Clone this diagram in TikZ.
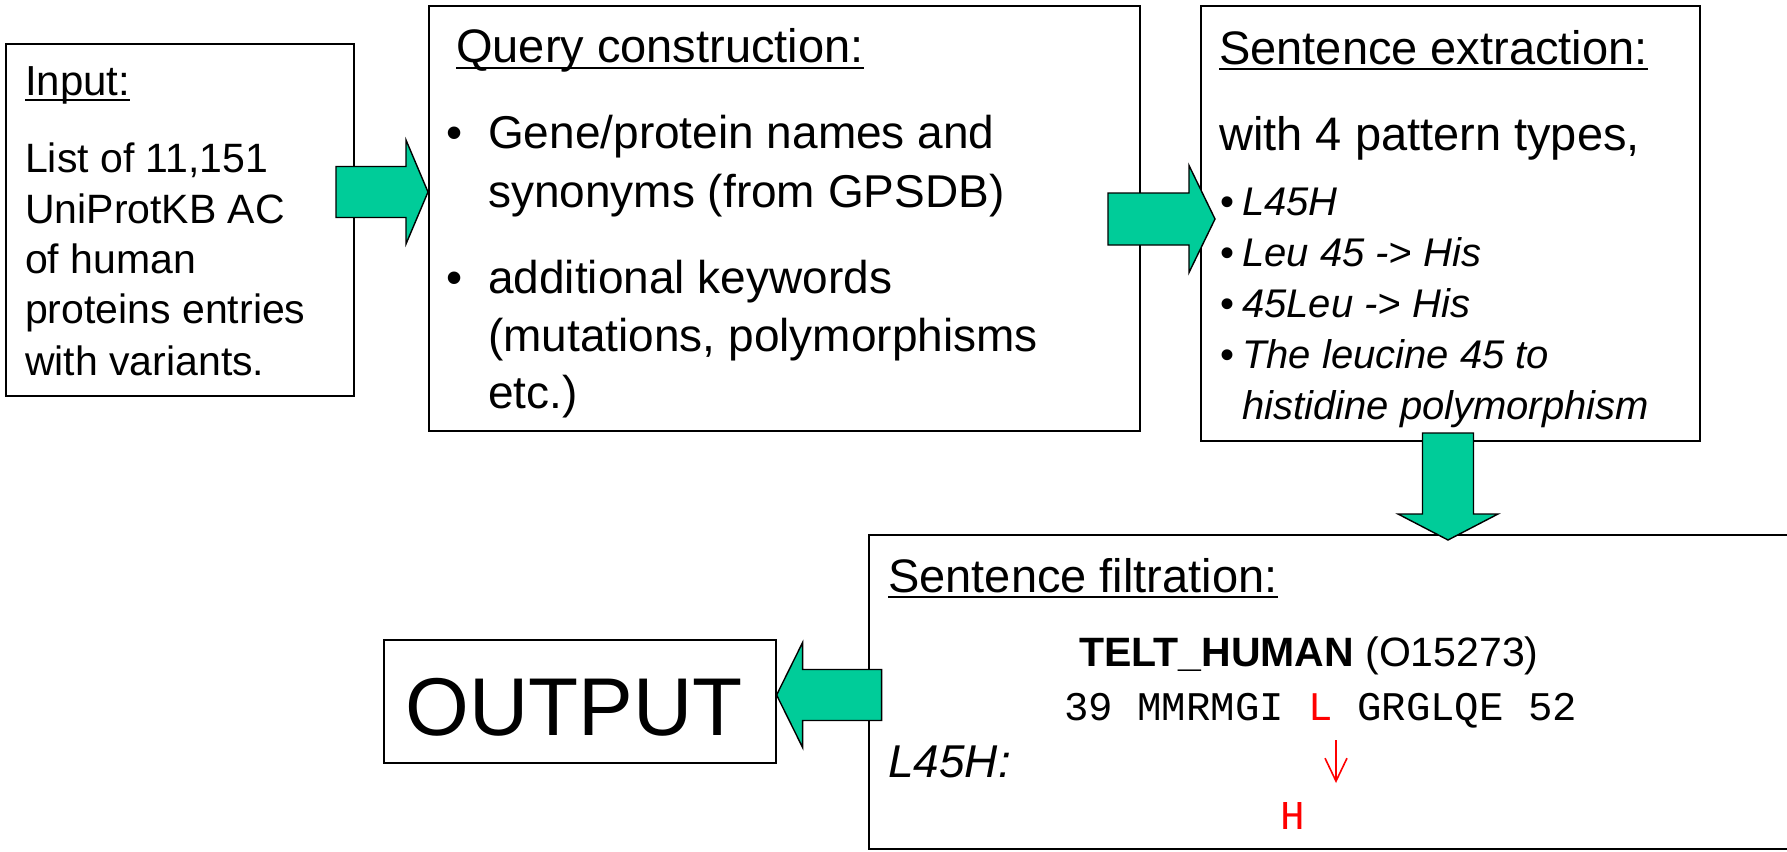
\documentclass[tikz,border=0pt]{standalone}
\usepackage{fontspec}
\setmainfont{Liberation Sans}
\setmonofont{Liberation Mono}
\usetikzlibrary{positioning,arrows.meta}
\definecolor{arrowgreen}{RGB}{0,204,153}
\newsavebox{\ulbox}
\newcommand{\ulin}[1]{\sbox{\ulbox}{#1}\rlap{\rule[-5.8pt]{\wd\ulbox}{1.8pt}}\usebox{\ulbox}}

\tikzset{
  box/.style={draw, line width=1.6pt, inner sep=0pt, anchor=north west},
  txt/.style={inner sep=0pt, anchor=base west},
  ttl/.style={txt, font=\fontsize{47}{56}\selectfont},
  big/.style={txt, font=\fontsize{46}{59}\selectfont},
  small/.style={txt, font=\fontsize{41}{50}\selectfont},
  pat/.style={txt, font=\fontsize{40}{51}\selectfont\itshape},
  dot/.style={inner sep=0pt, anchor=base},
  fatarrow/.style={fill=arrowgreen, draw=black, line width=1.4pt, line join=miter},
  mutarrow/.style={red, line width=1.6pt, -{Straight Barb[length=23pt, width=22pt]}}
}

% tip, rotation, total length, head length, shaft half, head half
\newcommand{\fatarrow}[6]{%
  \begin{scope}[shift={(#1)}, rotate=#2]
    \filldraw[fatarrow] (0,0) -- (-#4,#6) -- (-#4,#5) -- (-#3,#5) -- (-#3,-#5) -- (-#4,-#5) -- (-#4,-#6) -- cycle;
  \end{scope}}

\begin{document}
\begin{tikzpicture}[x=1pt, y=-1pt]
\useasboundingbox (0,0) rectangle (1787,851);

% boxes
\node[box, minimum width=348, minimum height=352] (input) at (5,43) {};
\node[box, minimum width=711, minimum height=425] (query) at (428,5) {};
\node[box, minimum width=499, minimum height=435] (extract) at (1200,5) {};
\node[box, minimum width=930, minimum height=314] (filter) at (868,534) {};
\node[box, minimum width=392, minimum height=123] (output) at (383,639) {};

% input
\node[txt, font=\fontsize{42}{50}\selectfont] (intitle) at (25,95) {\ulin{Input:}};
\foreach \y/\t [count=\i] in {172/{List of 11,151}, 223/{UniProtKB AC}, 273/{of human},
    323/{proteins entries}, 375/{with variants.}}
  \node[small] (inline\i) at (25,\y) {\t};

% query construction
\node[ttl] (qtitle) at (456,63) {\ulin{Query construction:}};
\node[dot, font=\fontsize{46}{59}\selectfont] (qdot1) at (455,148) {•};
\node[dot, font=\fontsize{46}{59}\selectfont] (qdot2) at (455,293) {•};
\foreach \y/\t [count=\i] in {148/{Gene/protein names and}, 207/{synonyms (from GPSDB)},
    293/{additional keywords}, 351/{(mutations, polymorphisms}, 408/{etc.)}}
  \node[big] (qline\i) at (488,\y) {\t};

% sentence extraction
\node[ttl] (etitle) at (1219,64) {\ulin{Sentence extraction:}};
\node[ttl] (ewith) at (1219,150) {with 4 pattern types,};
\foreach \y [count=\i] in {215,266,317,368}
  \node[dot, font=\fontsize{40}{51}\selectfont] (edot\i) at (1227,\y) {•};
\foreach \y/\t [count=\i] in {215/{L45H}, 266/{Leu 45 -> His}, 317/{45Leu -> His},
    368/{The leucine 45 to}, 419/{histidine polymorphism}}
  \node[pat] (epat\i) at (1242,\y) {\t};

% sentence filtration
\node[ttl] (ftitle) at (888,592) {\ulin{Sentence filtration:}};
\node[txt, font=\fontsize{41}{48}\selectfont] (prot) at (1079,666) {\textbf{TELT\_HUMAN} (O15273)};
\node[txt, font=\fontsize{40.7}{48}\ttfamily] (seq) at (1064,720) {39 MMRMGI \textcolor{red}{L} GRGLQE 52};
\node[txt, font=\fontsize{46}{52}\selectfont\itshape] (mut) at (888,777) {L45H:};
\node[dot, red, font=\fontsize{41}{48}\ttfamily] (newres) at (1293,829) {H};
\coordinate (mutfrom) at (1336,740);
\coordinate (mutto) at (1336,783);
\draw[mutarrow] (mutfrom) -- (mutto);

% output
\node[txt, font=\fontsize{82}{90}\selectfont] (outtext) at (405,735) {OUTPUT};

% arrows
\coordinate (tipq) at (query.west |- 0,192);
\coordinate (tipe) at (1215,219);
\coordinate (tipf) at (1448,540);
\coordinate (tipo) at (output.east |- 0,695);
\fatarrow{tipq}{0}{92}{22}{25.5}{52}
\fatarrow{tipe}{0}{107}{26}{26}{53.5}
\fatarrow{tipf}{-90}{107}{26}{25.5}{50}
\fatarrow{tipo}{180}{105}{26}{25.5}{52.5}

\end{tikzpicture}
\end{document}
